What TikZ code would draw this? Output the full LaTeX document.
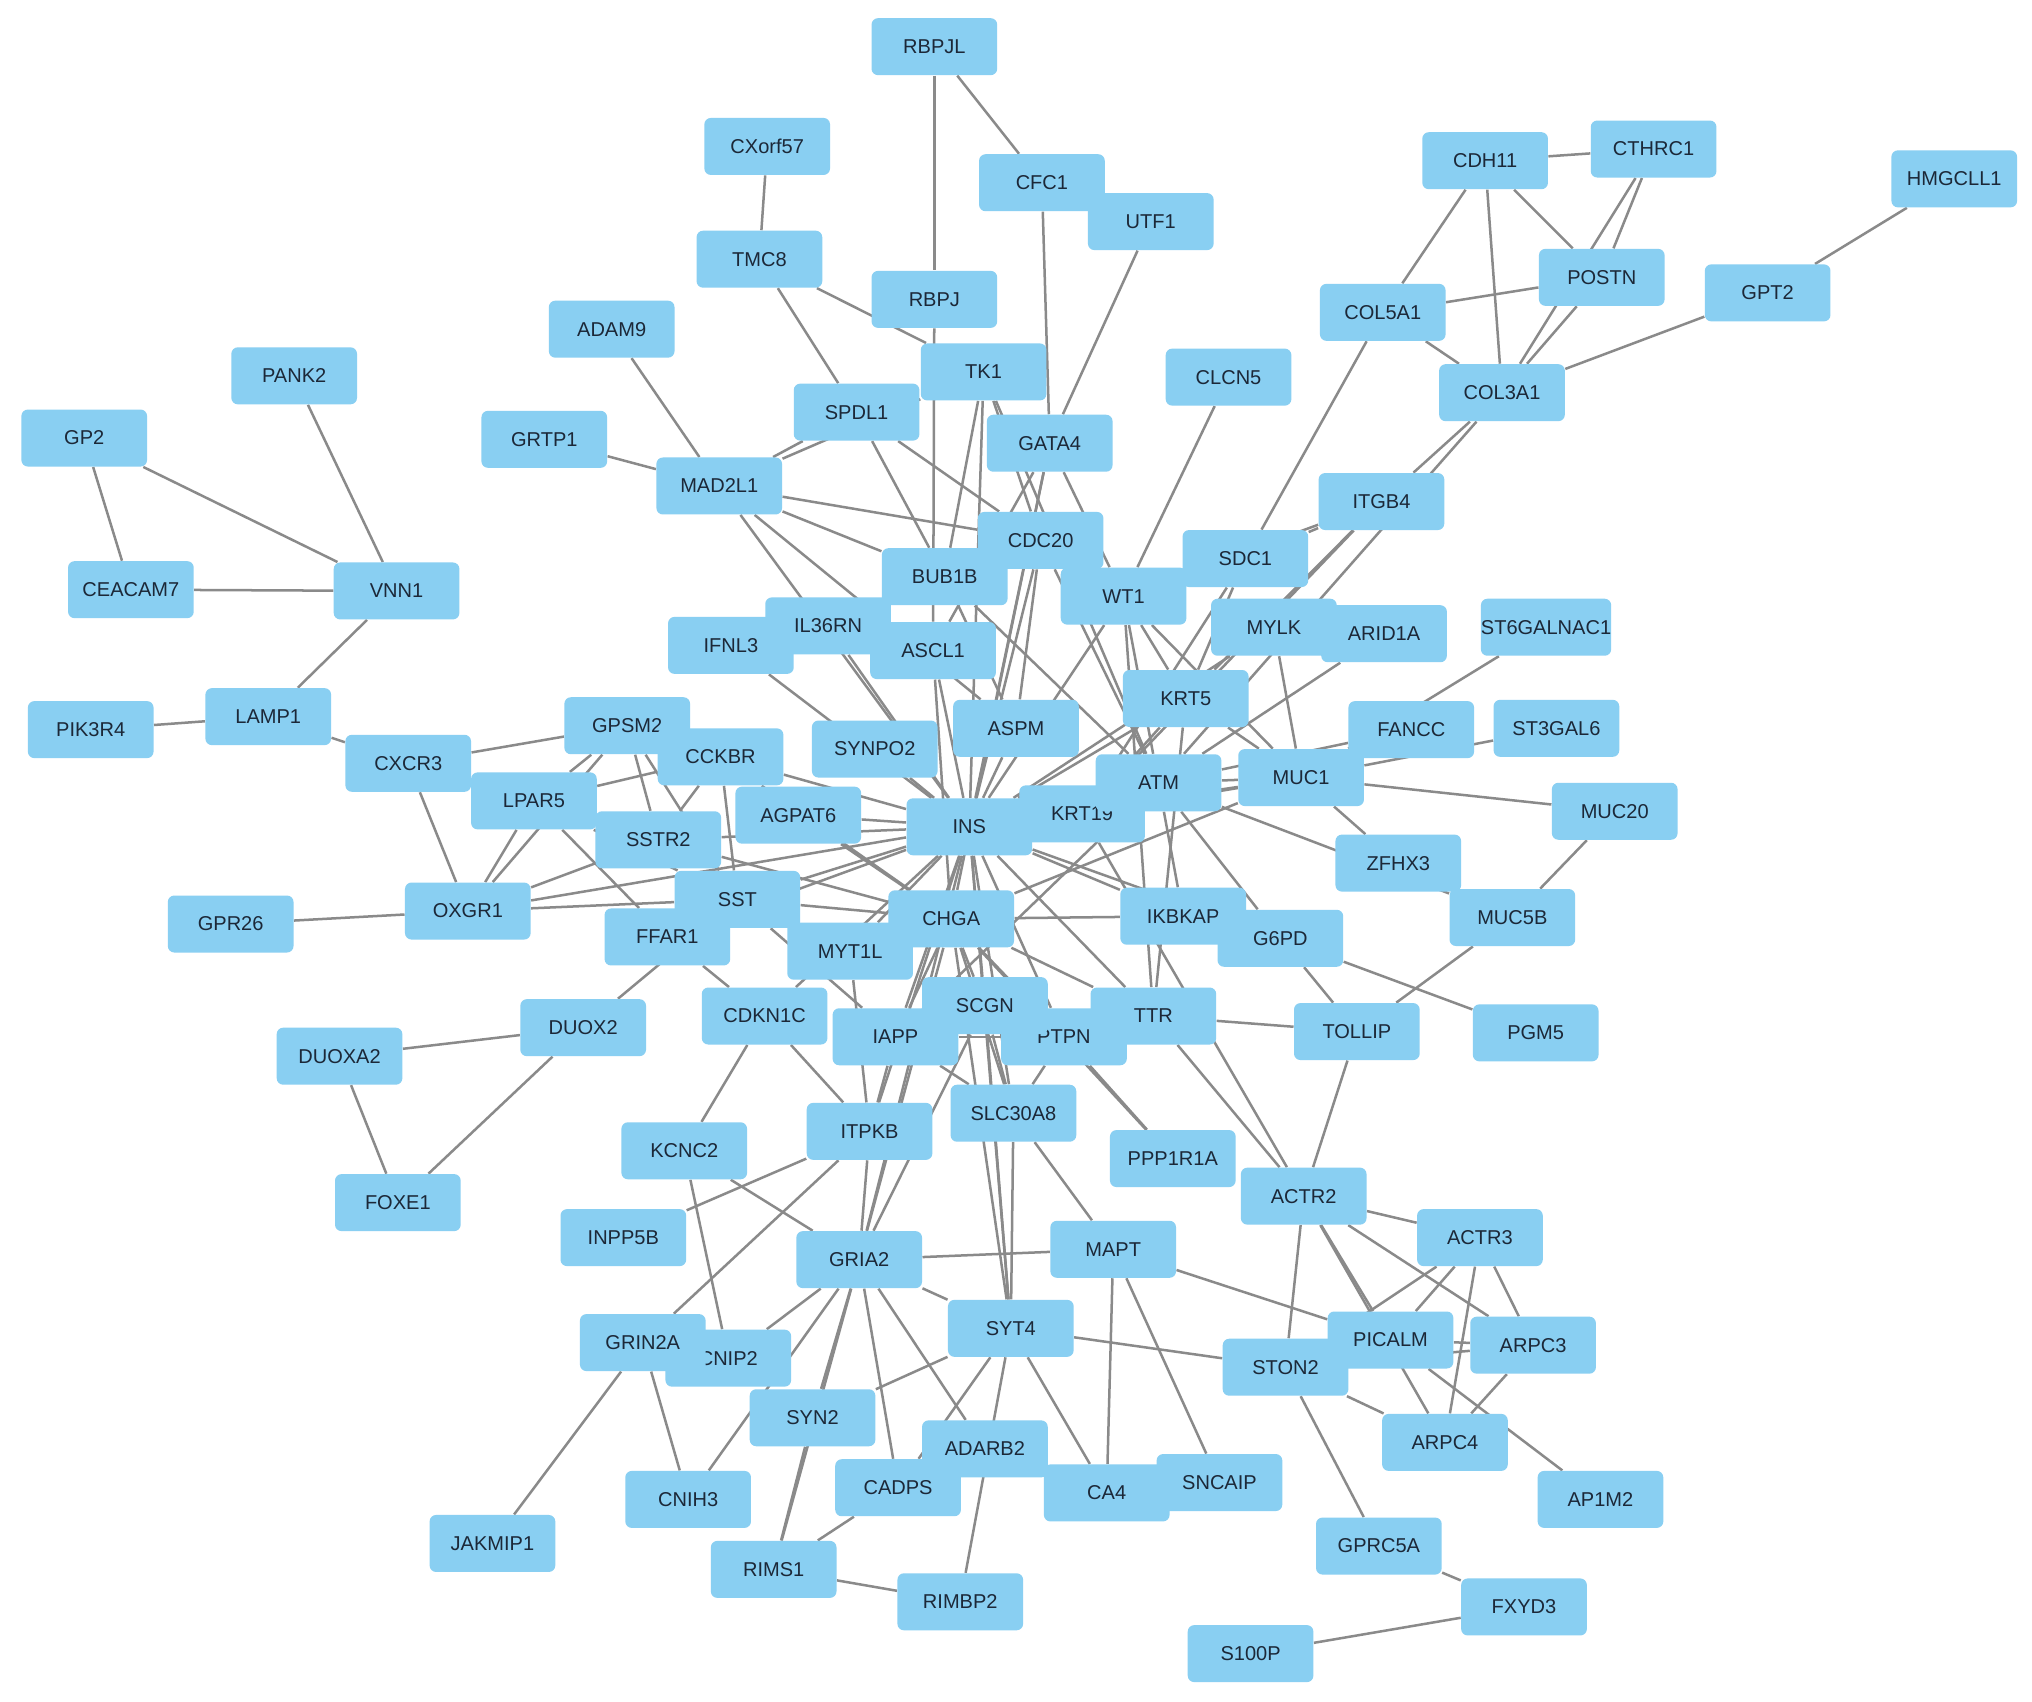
\documentclass[tikz,border=0pt]{standalone}
\usepackage{fontspec}
\setmainfont{Liberation Sans}
\usetikzlibrary{backgrounds}
\definecolor{boxfill}{RGB}{137,207,242}
\definecolor{boxtext}{RGB}{28,40,56}
\definecolor{edgecol}{RGB}{138,138,138}
\begin{document}
\begin{tikzpicture}[x=0.02cm,y=-0.02cm,
  gene/.style={rectangle, rounded corners=0.1cm, fill=boxfill, text=boxtext,
    minimum width=1.94cm, minimum height=0.88cm, inner sep=0pt,
    font=\fontsize{8.8}{10}\selectfont},
  link/.style={draw=edgecol, line width=1.1pt}]
\useasboundingbox (0,0) rectangle (1568,1313);
% nodes
\node[gene] (RBPJL) at (721,36) {RBPJL};
\node[gene] (CXorf57) at (592,113) {CXorf57};
\node[gene] (CFC1) at (804,141) {CFC1};
\node[gene] (UTF1) at (888,171) {UTF1};
\node[gene] (TMC8) at (586,200) {TMC8};
\node[gene] (RBPJ) at (721,231) {RBPJ};
\node[gene] (ADAM9) at (472,254) {ADAM9};
\node[gene] (PANK2) at (227,290) {PANK2};
\node[gene] (TK1) at (759,287) {TK1};
\node[gene] (CLCN5) at (948,291) {CLCN5};
\node[gene] (SPDL1) at (661,318) {SPDL1};
\node[gene] (GRTP1) at (420,339) {GRTP1};
\node[gene] (GP2) at (65,338) {GP2};
\node[gene] (GATA4) at (810,342) {GATA4};
\node[gene] (MAD2L1) at (555,375) {MAD2L1};
\node[gene] (CDH11) at (1146,124) {CDH11};
\node[gene] (CTHRC1) at (1276,115) {CTHRC1};
\node[gene] (HMGCLL1) at (1508,138) {HMGCLL1};
\node[gene] (POSTN) at (1236,214) {POSTN};
\node[gene] (GPT2) at (1364,226) {GPT2};
\node[gene] (COL5A1) at (1067,241) {COL5A1};
\node[gene] (COL3A1) at (1159,303) {COL3A1};
\node[gene] (ITGB4) at (1066,387) {ITGB4};
\node[gene] (CDC20) at (803,417) {CDC20};
\node[gene] (SDC1) at (961,431) {SDC1};
\node[gene] (BUB1B) at (729,445) {BUB1B};
\node[gene] (WT1) at (867,460) {WT1};
\node[gene] (CEACAM7) at (101,455) {CEACAM7};
\node[gene] (VNN1) at (306,456) {VNN1};
\node[gene] (IFNL3) at (564,498) {IFNL3};
\node[gene] (IL36RN) at (639,483) {IL36RN};
\node[gene] (ARID1A) at (1068,489) {ARID1A};
\node[gene] (MYLK) at (983,484) {MYLK};
\node[gene] (ST6GALNAC1) at (1193,484) {ST6GALNAC1};
\node[gene] (ASCL1) at (720,502) {ASCL1};
\node[gene] (KRT5) at (915,539) {KRT5};
\node[gene] (LAMP1) at (207,553) {LAMP1};
\node[gene] (PIK3R4) at (70,563) {PIK3R4};
\node[gene] (GPSM2) at (484,560) {GPSM2};
\node[gene] (ASPM) at (784,562) {ASPM};
\node[gene] (FANCC) at (1089,563) {FANCC};
\node[gene] (ST3GAL6) at (1201,562) {ST3GAL6};
\node[gene] (SYNPO2) at (675,578) {SYNPO2};
\node[gene] (CCKBR) at (556,584) {CCKBR};
\node[gene] (CXCR3) at (315,589) {CXCR3};
\node[gene] (KRT19) at (835,628) {KRT19};
\node[gene] (ATM) at (894,604) {ATM};
\node[gene] (MUC1) at (1004,600) {MUC1};
\node[gene] (LPAR5) at (412,618) {LPAR5};
\node[gene] (AGPAT6) at (616,629) {AGPAT6};
\node[gene] (INS) at (748,638) {INS};
\node[gene] (MUC20) at (1246,626) {MUC20};
\node[gene] (SSTR2) at (508,648) {SSTR2};
\node[gene] (ZFHX3) at (1079,666) {ZFHX3};
\node[gene] (OXGR1) at (361,703) {OXGR1};
\node[gene] (FFAR1) at (515,723) {FFAR1};
\node[gene] (SST) at (569,694) {SST};
\node[gene] (GPR26) at (178,713) {GPR26};
\node[gene] (IKBKAP) at (913,707) {IKBKAP};
\node[gene] (G6PD) at (988,724) {G6PD};
\node[gene] (MYT1L) at (656,734) {MYT1L};
\node[gene] (CHGA) at (734,709) {CHGA};
\node[gene] (MUC5B) at (1167,708) {MUC5B};
\node[gene] (DUOX2) at (450,793) {DUOX2};
\node[gene] (CDKN1C) at (590,784) {CDKN1C};
\node[gene] (PTPN) at (821,800) {PTPN};
\node[gene] (TTR) at (890,784) {TTR};
\node[gene] (IAPP) at (691,800) {IAPP};
\node[gene] (SCGN) at (760,776) {SCGN};
\node[gene] (TOLLIP) at (1047,796) {TOLLIP};
\node[gene] (PGM5) at (1185,797) {PGM5};
\node[gene] (DUOXA2) at (262,815) {DUOXA2};
\node[gene] (SLC30A8) at (782,859) {SLC30A8};
\node[gene] (ITPKB) at (671,873) {ITPKB};
\node[gene] (KCNC2) at (528,888) {KCNC2};
\node[gene] (PPP1R1A) at (905,894) {PPP1R1A};
\node[gene] (FOXE1) at (307,928) {FOXE1};
\node[gene] (ACTR2) at (1006,923) {ACTR2};
\node[gene] (INPP5B) at (481,955) {INPP5B};
\node[gene] (ACTR3) at (1142,955) {ACTR3};
\node[gene] (MAPT) at (859,964) {MAPT};
\node[gene] (GRIA2) at (663,972) {GRIA2};
\node[gene] (SYT4) at (780,1025) {SYT4};
\node[gene] (CNIP2) at (562,1048) {CNIP2};
\node[gene] (GRIN2A) at (496,1036) {GRIN2A};
\node[gene] (STON2) at (992,1055) {STON2};
\node[gene] (PICALM) at (1073,1034) {PICALM};
\node[gene] (ARPC3) at (1183,1038) {ARPC3};
\node[gene] (SYN2) at (627,1094) {SYN2};
\node[gene] (ARPC4) at (1115,1113) {ARPC4};
\node[gene] (CADPS) at (693,1148) {CADPS};
\node[gene] (ADARB2) at (760,1118) {ADARB2};
\node[gene] (CA4) at (854,1152) {CA4};
\node[gene] (SNCAIP) at (941,1144) {SNCAIP};
\node[gene] (CNIH3) at (531,1157) {CNIH3};
\node[gene] (AP1M2) at (1235,1157) {AP1M2};
\node[gene] (JAKMIP1) at (380,1191) {JAKMIP1};
\node[gene] (GPRC5A) at (1064,1193) {GPRC5A};
\node[gene] (RIMS1) at (597,1211) {RIMS1};
\node[gene] (RIMBP2) at (741,1236) {RIMBP2};
\node[gene] (FXYD3) at (1176,1240) {FXYD3};
\node[gene] (S100P) at (965,1276) {S100P};
% edges
\begin{scope}[on background layer]
\fill[white] (0,0) rectangle (1568,1313);
\foreach \a/\b in {RBPJL/RBPJ, RBPJL/CFC1, RBPJ/ASCL1, CXorf57/TMC8, TMC8/TK1, TMC8/SPDL1,
  CFC1/GATA4, UTF1/GATA4, CLCN5/WT1, ADAM9/MAD2L1, GRTP1/MAD2L1, PANK2/VNN1,
  GP2/CEACAM7, GP2/VNN1, CEACAM7/VNN1, VNN1/LAMP1, LAMP1/PIK3R4, LAMP1/CXCR3,
  CDH11/CTHRC1, CDH11/POSTN, CDH11/COL5A1, CDH11/COL3A1, CTHRC1/POSTN, CTHRC1/COL3A1,
  POSTN/COL5A1, POSTN/COL3A1, COL5A1/COL3A1, HMGCLL1/GPT2, GPT2/COL3A1,
  COL3A1/ITGB4, COL3A1/ATM, COL5A1/SDC1, ITGB4/SDC1, ITGB4/KRT5, ITGB4/KRT19, ITGB4/WT1,
  ST6GALNAC1/MUC1, ST3GAL6/MUC1, MUC1/MUC20, MUC1/ZFHX3, MUC20/MUC5B, MUC5B/TOLLIP,
  ATM/MUC5B, G6PD/PGM5, G6PD/TOLLIP, TTR/TOLLIP, TOLLIP/ACTR2, TTR/ACTR2, KRT19/ACTR2,
  ACTR2/ACTR3, ACTR2/ARPC3, ACTR2/ARPC4, ACTR2/PICALM, ACTR2/STON2, ACTR3/PICALM,
  ACTR3/STON2, ACTR3/ARPC4, ACTR3/ARPC3, PICALM/ARPC3, STON2/ARPC3, ARPC3/ARPC4,
  PICALM/AP1M2, STON2/ARPC4, STON2/GPRC5A, SYT4/STON2, MAPT/PICALM, MAPT/SNCAIP,
  MAPT/CA4, MAPT/GRIA2, MAPT/SLC30A8, GPRC5A/FXYD3, FXYD3/S100P,
  DUOX2/DUOXA2, DUOX2/FOXE1, DUOXA2/FOXE1, DUOX2/SST, GPR26/OXGR1}
  \draw[link] (\a) -- (\b);
\foreach \a/\b in {CXCR3/GPSM2, CXCR3/OXGR1, OXGR1/LPAR5, OXGR1/GPSM2, OXGR1/SSTR2,
  OXGR1/SST, LPAR5/CCKBR, LPAR5/SST, LPAR5/FFAR1, LPAR5/GPSM2, GPSM2/SSTR2, GPSM2/SST,
  CCKBR/SST, CCKBR/SSTR2, CCKBR/INS, CCKBR/CHGA, SSTR2/INS, SSTR2/CHGA, SST/INS,
  SST/CHGA, SST/IAPP, FFAR1/INS, OXGR1/INS, AGPAT6/INS, AGPAT6/CHGA, SYNPO2/INS,
  CDKN1C/FFAR1, CDKN1C/KCNC2, CDKN1C/ITPKB, CDKN1C/INS}
  \draw[link] (\a) -- (\b);
\foreach \a/\b in {MAD2L1/SPDL1, MAD2L1/TK1, MAD2L1/CDC20, MAD2L1/BUB1B, MAD2L1/ASPM,
  MAD2L1/INS, SPDL1/BUB1B, SPDL1/CDC20, TK1/CDC20, TK1/INS, TK1/ATM, TK1/BUB1B,
  GATA4/WT1, GATA4/INS, GATA4/ASCL1, GATA4/CHGA, CDC20/BUB1B, CDC20/ASPM, CDC20/ATM,
  CDC20/INS, BUB1B/ASPM, BUB1B/ATM, IL36RN/INS, IFNL3/INS, ASCL1/INS, ASCL1/CHGA,
  ASPM/INS, WT1/INS, WT1/KRT5, WT1/ATM, WT1/MUC1, WT1/TTR, SDC1/KRT5, SDC1/KRT19,
  MYLK/MUC1, MYLK/INS, ARID1A/ATM, KRT5/MUC1, KRT5/KRT19, KRT5/INS, KRT5/TTR,
  ATM/MUC1, ATM/FANCC, ATM/G6PD, ATM/IKBKAP, ATM/IAPP, KRT19/MUC1}
  \draw[link] (\a) -- (\b);
\foreach \a/\b in {INS/SCGN, INS/IAPP, INS/PTPN, INS/SLC30A8, INS/MYT1L, INS/ITPKB,
  INS/SYT4, INS/GRIA2, INS/IKBKAP, INS/G6PD, INS/TTR, INS/MUC1, CHGA/MUC1, CHGA/SCGN,
  CHGA/IAPP, CHGA/PTPN, CHGA/SLC30A8, CHGA/MYT1L, CHGA/SYT4, CHGA/GRIA2, CHGA/TTR,
  CHGA/PPP1R1A, CHGA/IKBKAP, SCGN/GRIA2, SCGN/IAPP, SCGN/PTPN, SCGN/SLC30A8, SCGN/SYT4,
  IAPP/SLC30A8, IAPP/ITPKB, IAPP/PTPN, PTPN/SLC30A8, PTPN/PPP1R1A, MYT1L/ITPKB,
  ITPKB/INPP5B, ITPKB/GRIN2A, ITPKB/GRIA2, KCNC2/GRIA2, KCNC2/CNIP2, GRIA2/CNIP2,
  GRIA2/CNIH3, GRIA2/SYN2, GRIA2/RIMS1, GRIA2/CADPS, GRIA2/ADARB2, GRIA2/SYT4,
  SYT4/SYN2, SYT4/CADPS, SYT4/RIMBP2, SYT4/CA4, SYT4/SLC30A8, SYN2/RIMS1, CADPS/RIMS1,
  RIMS1/RIMBP2, GRIN2A/JAKMIP1, GRIN2A/CNIH3}
  \draw[link] (\a) -- (\b);
\end{scope}
\end{tikzpicture}
\end{document}
